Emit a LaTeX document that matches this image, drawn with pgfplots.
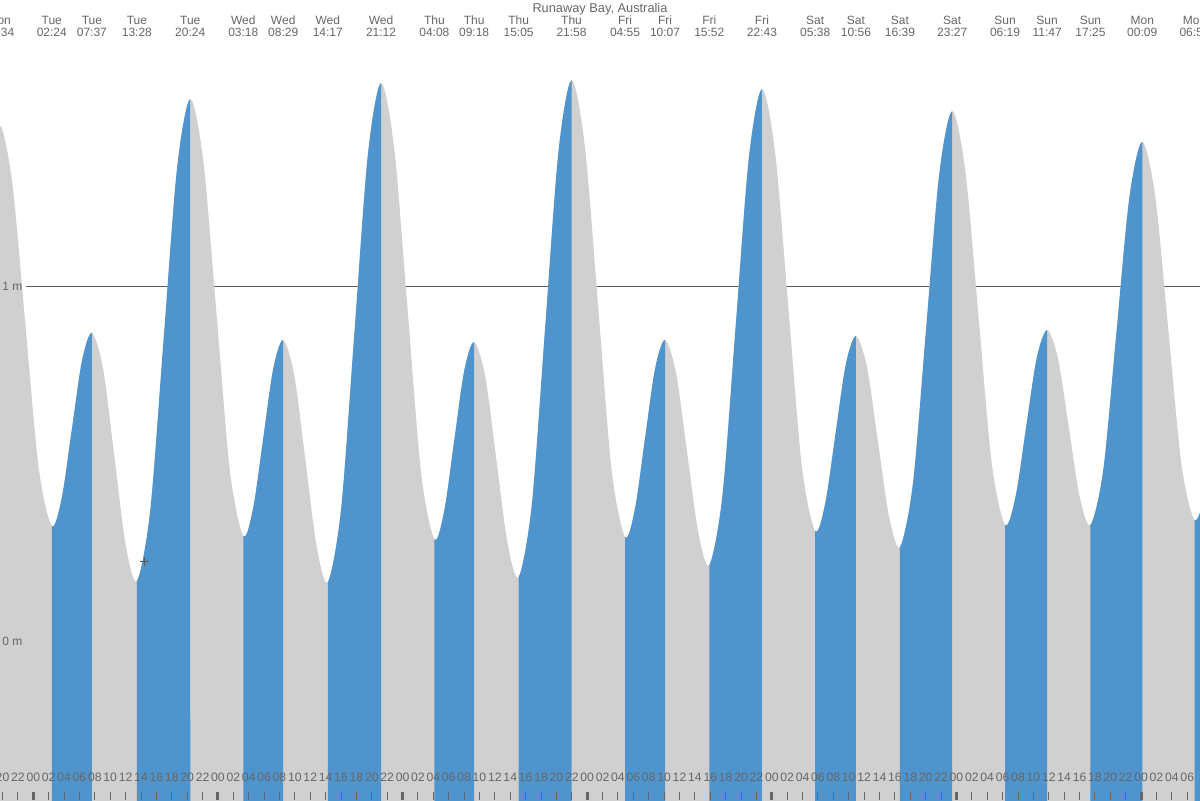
\documentclass[border=0pt]{standalone}
\usepackage{fontspec}
\setmainfont{Liberation Sans}
\usepackage{pgfplots}
\pgfplotsset{compat=1.18}
\usepgfplotslibrary{fillbetween}
\usepackage{pgfplotstable}
\definecolor{tideblue}{RGB}{79,148,205}
\definecolor{tidegray}{RGB}{208,208,208}
\definecolor{txt}{RGB}{102,102,102}
\definecolor{rulec}{RGB}{90,90,90}
\pgfplotstableread{
t h
12.83 0.17
14.514 0.358
16.199 0.812
17.883 1.266
19.567 1.454
21.275 1.289
22.984 0.889
24.692 0.489
26.4 0.324
27.704 0.404
29.009 0.596
30.313 0.788
31.617 0.868
33.080 0.766
34.542 0.519
36.005 0.271
37.467 0.169
39.200 0.368
40.934 0.848
42.667 1.328
44.4 1.527
46.125 1.347
47.85 0.912
49.575 0.476
51.3 0.296
52.596 0.377
53.892 0.572
55.187 0.767
56.483 0.848
57.933 0.748
59.383 0.507
60.833 0.266
62.283 0.166
64.012 0.372
65.742 0.869
67.471 1.366
69.2 1.572
70.933 1.384
72.667 0.930
74.4 0.475
76.133 0.287
77.425 0.368
78.717 0.565
80.008 0.761
81.3 0.842
82.746 0.745
84.192 0.511
85.637 0.277
87.083 0.180
88.804 0.385
90.525 0.880
92.246 1.375
93.967 1.580
95.705 1.392
97.442 0.937
99.179 0.481
100.917 0.293
102.217 0.374
103.517 0.571
104.817 0.767
106.117 0.848
107.554 0.755
108.992 0.531
110.429 0.307
111.867 0.214
113.579 0.410
115.292 0.885
117.004 1.359
118.717 1.555
120.446 1.373
122.175 0.933
123.904 0.492
125.633 0.310
126.958 0.390
128.283 0.585
129.608 0.779
130.933 0.859
132.362 0.772
133.792 0.562
135.221 0.352
136.65 0.265
138.35 0.445
140.05 0.879
141.75 1.313
143.45 1.493
145.167 1.322
146.884 0.910
148.6 0.498
150.317 0.327
151.684 0.407
153.05 0.602
154.417 0.796
155.783 0.876
157.192 0.796
158.6 0.602
160.008 0.407
161.417 0.327
163.1 0.485
164.784 0.867
166.467 1.248
168.15 1.406
169.85 1.250
171.55 0.874
173.25 0.497
174.95 0.341
176.338 0.421
177.725 0.616
179.113 0.810
180.5 0.89
}\tide
\newcommand\lab[3]{%
  \node[lbl] at (axis cs:#1,1.7366) {#2};
  \node[lbl] at (axis cs:#1,1.7028) {#3};}
\newcommand\band[2]{%
  \addplot[tideblue] fill between[of=tide and base, soft clip={(axis cs:#1,-0.7) rectangle (axis cs:#2,2)}];}
\begin{document}
\begin{tikzpicture}[lbl/.style={anchor=base, inner sep=0pt, text=txt, font=\fontsize{6}{6}\selectfont}]
\begin{axis}[
  at={(0,0)}, anchor=south west,
  scale only axis, width=600pt, height=400pt,
  xmin=19.671, xmax=175.657, ymin=-0.448, ymax=1.806,
  set layers, axis on top,
  axis line style={draw=none},
  ytick=\empty,
  xtick={20,22,...,174},
  xticklabels={20,22,
    00,02,04,06,08,10,12,14,16,18,20,22,
    00,02,04,06,08,10,12,14,16,18,20,22,
    00,02,04,06,08,10,12,14,16,18,20,22,
    00,02,04,06,08,10,12,14,16,18,20,22,
    00,02,04,06,08,10,12,14,16,18,20,22,
    00,02,04,06,08,10,12,14,16,18,20,22,
    00,02,04,06},
  xtick pos=left,
  tick align=inside,
  major tick length=4pt,
  major tick style={draw=txt, line width=0.5pt},
  xticklabel style={font=\fontsize{6.1}{6.1}\selectfont, text=txt, anchor=center, inner sep=0pt, yshift=11.25pt},
  extra x ticks={24,48,72,96,120,144,168},
  extra x tick labels={},
  extra x tick style={major tick style={draw=txt, line width=1.5pt}},
]
\addplot[on layer=axis background, draw=rulec, line width=0.5pt] coordinates {(23.05,1) (176,1)};
\addplot[name path=tide, draw=none, smooth] table[x=t, y=h] {\tide};
\addplot[name path=base, draw=none] coordinates {(10,-0.6) (185,-0.6)};
\addplot[tidegray] fill between[of=tide and base];
\band{12.83}{19.567}
\band{26.4}{31.617}
\band{37.467}{44.4}
\band{51.3}{56.483}
\band{62.283}{69.2}
\band{76.133}{81.3}
\band{87.083}{93.967}
\band{100.917}{106.117}
\band{111.867}{118.717}
\band{125.633}{130.933}
\band{136.65}{143.45}
\band{150.317}{155.783}
\band{161.417}{168.15}
\band{174.95}{180.5}
\addplot[only marks, mark=+, mark size=2.25pt, draw=rulec, line width=0.5pt] coordinates {(38.48,0.225)};
\node[lbl, font=\fontsize{6.4}{6.4}\selectfont] at (axis cs:97.66,1.7718) {Runaway Bay, Australia};
\lab{19.567}{Mon}{19:34}
\lab{26.4}{Tue}{02:24}
\lab{31.617}{Tue}{07:37}
\lab{37.467}{Tue}{13:28}
\lab{44.4}{Tue}{20:24}
\lab{51.3}{Wed}{03:18}
\lab{56.483}{Wed}{08:29}
\lab{62.283}{Wed}{14:17}
\lab{69.2}{Wed}{21:12}
\lab{76.133}{Thu}{04:08}
\lab{81.3}{Thu}{09:18}
\lab{87.083}{Thu}{15:05}
\lab{93.967}{Thu}{21:58}
\lab{100.917}{Fri}{04:55}
\lab{106.117}{Fri}{10:07}
\lab{111.867}{Fri}{15:52}
\lab{118.717}{Fri}{22:43}
\lab{125.633}{Sat}{05:38}
\lab{130.933}{Sat}{10:56}
\lab{136.65}{Sat}{16:39}
\lab{143.45}{Sat}{23:27}
\lab{150.317}{Sun}{06:19}
\lab{155.783}{Sun}{11:47}
\lab{161.417}{Sun}{17:25}
\lab{168.15}{Mon}{00:09}
\lab{174.95}{Mon}{06:57}
\node[anchor=west, inner sep=0pt, text=txt, font=\fontsize{6}{6}\selectfont] at (axis cs:19.93,1) {1 m};
\node[anchor=west, inner sep=0pt, text=txt, font=\fontsize{6}{6}\selectfont] at (axis cs:19.93,0) {0 m};
\end{axis}
\pgfresetboundingbox
\useasboundingbox (0,0) rectangle (600pt,400pt);
\end{tikzpicture}
\end{document}
